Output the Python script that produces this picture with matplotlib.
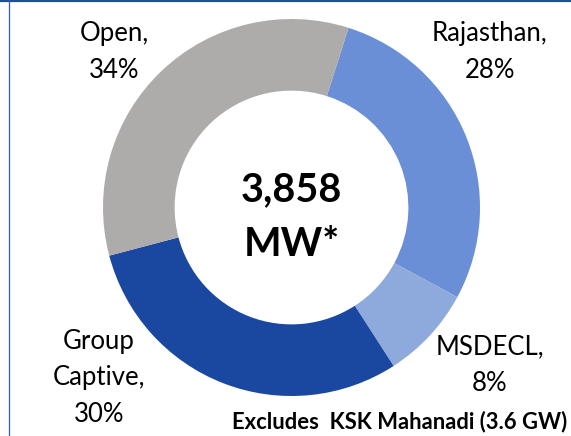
import matplotlib
matplotlib.use("Agg")
import matplotlib.pyplot as plt
from matplotlib.lines import Line2D

labels = ["Rajasthan", "MSDECL", "Group\nCaptive", "Open"]
shares = [28, 8, 30, 34]
colors = ["#6A8FD6", "#8EA9DB", "#1A47A0", "#AEABAB"]
total_text = "3,858\nMW*"
footnote = "Excludes  KSK Mahanadi (3.6 GW)"

W, H = 571, 436
fig = plt.figure(figsize=(W / 100, H / 100), dpi=100)
ax = fig.add_axes([0, 0, 1, 1])

cx, cy, R = 291.5, H - 207.5, 188.5
ax.pie(shares, colors=colors, startangle=72.4, counterclock=False,
       center=(cx, cy), radius=R, wedgeprops=dict(width=R * 0.38, linewidth=0),
       frame=True)
ax.set_xlim(0, W)
ax.set_ylim(0, H)
ax.axis("off")

font = "Lato"
label_pos = [(490, H - 52), (490, H - 365), (99, H - 378), (114, H - 52)]
for lab, s, (x, y) in zip(labels, shares, label_pos):
    ax.text(x, y, f"{lab},\n{s}%", ha="center", va="center", fontsize=18.5,
            family=font, color="#000000", linespacing=1.6)

ax.text(cx, H - 217, total_text, ha="center", va="center", fontsize=28.5,
        family=font, fontweight="bold", linespacing=1.6)

ax.text(567, H - 422, footnote, ha="right", va="center", fontsize=15.8,
        family=font, fontweight="bold")

fig.add_artist(Line2D([0, 1], [1 - 1 / H, 1 - 1 / H], color="#1F4E9C", lw=1.6,
                      transform=fig.transFigure))
fig.add_artist(Line2D([8.5 / W, 8.5 / W], [0, 1], color="#2F5BB0", lw=0.9,
                      transform=fig.transFigure))

fig.savefig("out.png", dpi=100)
